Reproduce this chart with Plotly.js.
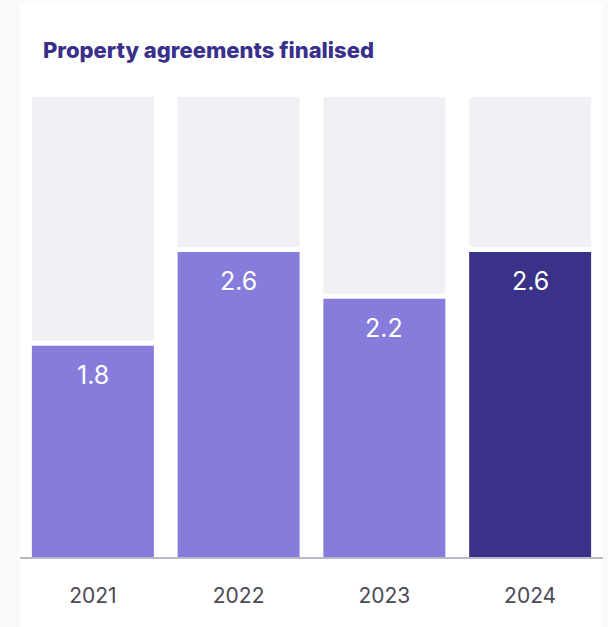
<!DOCTYPE html>
<html>
<head>
<meta charset="utf-8">
<script src="https://cdn.plot.ly/plotly-3.0.1.min.js"></script>
<style>
  html, body { margin: 0; padding: 0; background: #fafafb; }
  #chart { width: 608px; height: 627px; }
</style>
</head>
<body>
<div id="chart"></div>
<script>
// Property agreements finalised, per year
const years = ['2021', '2022', '2023', '2024'];
const agreements = [1.8, 2.6, 2.2, 2.6];
const barColors = ['#857cdb', '#857cdb', '#857cdb', '#3a3189'];

// Track (background column) height and the white gap above each value bar
const trackTop = 3.92;
const gapPx = 5;

const margin = { l: 20, r: 5, t: 97, b: 70 };
const plotHeight = 627 - margin.t - margin.b;
const gapUnits = gapPx * trackTop / plotHeight;

const trackBase = agreements.map(v => v + gapUnits);
const trackLen = trackBase.map(b => trackTop - b);

const valueBars = {
  type: 'bar',
  x: years,
  y: agreements,
  marker: { color: barColors, line: { width: 0 } },
  hoverinfo: 'skip',
  showlegend: false
};

const trackBars = {
  type: 'bar',
  x: years,
  y: trackLen,
  base: trackBase,
  marker: { color: '#f0f1f5', line: { width: 0 } },
  hoverinfo: 'skip',
  showlegend: false
};

// Value labels sit just inside the top of each bar (x given as category index)
const labels = years.map((yr, i) => ({
  x: i,
  y: agreements[i],
  xref: 'x',
  yref: 'y',
  text: agreements[i].toFixed(1),
  showarrow: false,
  yanchor: 'top',
  yshift: -12,
  font: { family: 'Inter, "Noto Sans", sans-serif', size: 25, color: '#ffffff' }
}));

const layout = {
  width: 608,
  height: 627,
  margin: margin,
  paper_bgcolor: '#fafafb',
  plot_bgcolor: '#ffffff',
  barmode: 'overlay',
  bargap: 0.163,
  title: {
    text: 'Property agreements finalised',
    xref: 'container',
    yref: 'container',
    x: 43 / 608,
    xanchor: 'left',
    y: 1 - 50 / 627,
    yanchor: 'middle',
    font: { family: 'Inter, "Noto Sans", sans-serif', size: 22, weight: 800, color: '#38308a' }
  },
  xaxis: {
    type: 'category',
    categoryorder: 'array',
    categoryarray: years,
    range: [-0.5, years.length - 0.5],
    showgrid: false,
    zeroline: false,
    showline: true,
    linecolor: '#b9b9c5',
    linewidth: 2,
    ticks: '',
    ticklabelstandoff: 19,
    tickfont: { family: 'Inter, "Noto Sans", sans-serif', size: 21, color: '#4b4a56' },
    fixedrange: true
  },
  yaxis: {
    range: [0, trackTop],
    showgrid: false,
    zeroline: false,
    showline: false,
    showticklabels: false,
    ticks: '',
    fixedrange: true
  },
  shapes: [{
    type: 'rect',
    xref: 'paper',
    yref: 'paper',
    x0: 0, x1: 1,
    y0: -70 / plotHeight, y1: (557 - 3) / plotHeight,
    fillcolor: '#ffffff',
    line: { width: 0 },
    layer: 'below'
  }],
  annotations: labels
};

Plotly.newPlot('chart', [valueBars, trackBars], layout, { displayModeBar: false, staticPlot: true });
</script>
</body>
</html>
